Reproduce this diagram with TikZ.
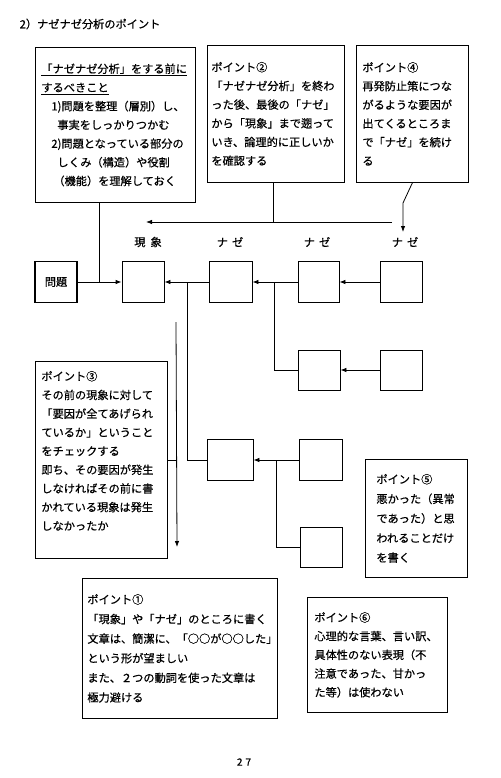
\documentclass[tikz,border=0pt]{standalone}
\usepackage{fontspec}
\setmainfont{Noto Sans CJK JP}[FakeBold=0.5]
\usepackage{tikz}
\usetikzlibrary{arrows.meta}
\tikzset{
    x=1pt, y=-1pt,
    arrow/.style={-{Latex[length=6pt,width=4.5pt]}},
    why node/.style={draw, line width=0.8pt, minimum width=43pt, minimum height=41pt, inner sep=0pt},
    problem node/.style={why node, line width=1.4pt},
    point box/.style={draw, line width=0.8pt, anchor=north west, align=left, inner ysep=0pt,
        font=\fontsize{11.2}{18.7}\selectfont},
    wide lines/.style={font=\fontsize{11.2}{19.6}\selectfont},
    row label/.style={font=\fontsize{11.2}{13}\selectfont}
}

\begin{document}
\begin{tikzpicture}[line width=0.8pt, font=\fontsize{11.2}{13}\selectfont]
    \useasboundingbox (0,0) rectangle (500,778);
    \node(title)[anchor=west] at (16,24) {2）ナゼナゼ分析のポイント};
    % point boxes
    \node(pA)[point box, text width=148pt, inner xsep=6pt, minimum height=155pt] at (35,47) {%
        \underline{「ナゼナゼ分析」をする前に}\\
        \underline{するべきこと}\\
        \hspace*{10pt}1)問題を整理（層別）し、\\
        \hspace*{16pt}事実をしっかりつかむ\\
        \hspace*{10pt}2)問題となっている部分の\\
        \hspace*{16pt}しくみ（構造）や役割\\
        \hspace*{12pt}（機能）を理解しておく};
    \node(pB)[point box, text width=129pt, inner xsep=4pt, minimum height=137pt] at (207,45) {%
        ポイント②\\
        「ナゼナゼ分析」を終わ\\
        った後、最後の「ナゼ」\\
        から「現象」まで遡って\\
        いき、論理的に正しいか\\
        を確認する};
    \node(pC)[point box, text width=100pt, inner xsep=6pt, minimum height=137pt] at (356,45) {%
        ポイント④\\
        再発防止策につな\\
        がるような要因が\\
        出てくるところま\\
        で「ナゼ」を続け\\
        る};
    \node(pD)[point box, text width=120pt, inner xsep=6pt, minimum height=197pt] at (35,361) {%
        ポイント③\\
        その前の現象に対して\\
        「要因が全てあげられ\\
        ているか」ということ\\
        をチェックする\\
        即ち、その要因が発生\\
        しなければその前に書\\
        かれている現象は発生\\
        しなかったか\\
        \mbox{}};
    \node(pE)[point box, wide lines, text width=80pt, inner xsep=11pt, minimum height=118pt] at (365,459) {%
        ポイント⑤\\
        悪かった（異常\\
        であった）と思\\
        われることだけ\\
        を書く};
    \node(pF)[point box, wide lines, text width=185pt, inner xsep=5pt, minimum height=140pt] at (82,578) {%
        ポイント①\\
        「現象」や「ナゼ」のところに書く\\
        文章は、簡潔に、「○○が○○した」\\
        という形が望ましい\\
        また、２つの動詞を使った文章は\\
        極力避ける};
    \node(pG)[point box, text width=126pt, inner xsep=7pt, minimum height=115pt] at (307,597) {%
        ポイント⑥\\
        心理的な言葉、言い訳、\\
        具体性のない表現（不\\
        注意であった、甘かっ\\
        た等）は使わない};
    % row labels
    \node(l0)[row label] at (148,242) {現\hspace{5pt}象};
    \node(l1)[row label] at (230,242) {ナ\hspace{4pt}ゼ};
    \node(l2)[row label] at (317,242) {ナ\hspace{4pt}ゼ};
    \node(l3)[row label] at (405,242) {ナ\hspace{4pt}ゼ};
    % chain of why boxes
    \node(p)[problem node, minimum width=42pt] at (56,282) {問題};
    \node(0)[why node, minimum width=42pt] at (143,282) {};
    \node(1)[why node] at (230.5,282) {};
    \node(1-1)[why node, minimum width=41pt] at (318.5,282) {};
    \node(1-1-1)[why node, minimum width=42pt] at (401,282) {};
    \node(1-2)[why node, minimum width=42pt, minimum height=40pt] at (319,370) {};
    \node(1-2-1)[why node, minimum width=42pt, minimum height=40pt] at (401.5,370) {};
    \node(2)[why node, minimum width=46pt] at (230,460) {};
    \node(2-1)[why node] at (320.5,460) {};
    \node(2-2)[why node, minimum width=42pt, minimum height=40pt] at (321,547) {};
    % connectors
    \coordinate (jA) at (99,282);
    \coordinate (jB) at (273,222);
    \coordinate (aR) at (392,222);
    \coordinate (aL) at (146,222);
    \coordinate (kC) at (403,203);
    \coordinate (tC) at (403,232);
    \coordinate (b0) at (187,282);
    \coordinate (b1) at (274,282);
    \coordinate (b2) at (276,460);
    \coordinate (dT) at (176,322);
    \coordinate (dB) at (177,547);
    \draw[arrow] (p) -- (0);
    \draw (pA.south -| jA) -- (jA);
    \draw (pB.south -| jB) -- (jB);
    \draw[arrow] (aR) -- (aL);
    \draw[arrow] (pC.south) -- (kC) -- (tC);
    \draw[arrow] (1) -- (0);
    \draw[arrow] (1-1) -- (1);
    \draw[arrow] (1-1-1) -- (1-1);
    \draw[arrow] (1-2-1) -- (1-2);
    \draw[arrow] (2-1) -- (2);
    \draw (b0) |- (2);
    \draw (b1) |- (1-2);
    \draw (b2) |- (2-2);
    \draw[arrow] (dT) -- (dB);
    \draw (pD.east |- b2) -- (dT |- b2);
    \node(page) at (244,762) {\fontsize{10}{12}\selectfont 2\hspace{3pt}7};
\end{tikzpicture}
\end{document}
